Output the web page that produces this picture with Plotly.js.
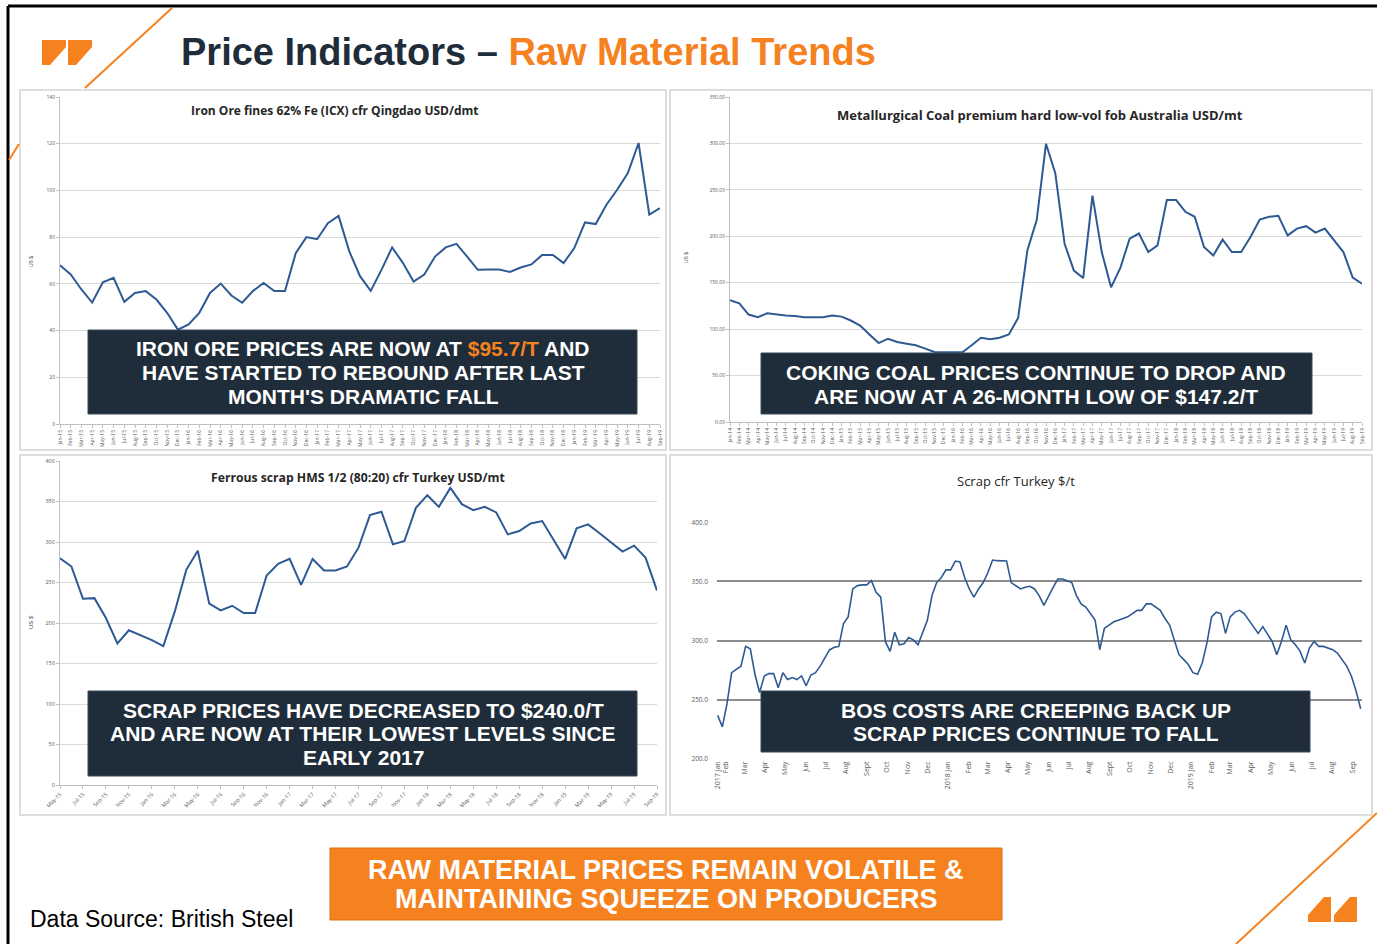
<!DOCTYPE html>
<html><head><meta charset="utf-8">
<script src="https://cdn.plot.ly/plotly-3.0.1.min.js"></script>
<style>html,body{margin:0;padding:0;background:#fff;overflow:hidden}</style>
</head><body><div id="chart" style="width:1377px;height:944px"></div>
<script>
// ---------- DATA ----------
const ironMonths = [
 'Jan-15','Feb-15','Mar-15','Apr-15','May-15','Jun-15','Jul-15','Aug-15','Sep-15','Oct-15','Nov-15','Dec-15',
 'Jan-16','Feb-16','Mar-16','Apr-16','May-16','Jun-16','Jul-16','Aug-16','Sep-16','Oct-16','Nov-16','Dec-16',
 'Jan-17','Feb-17','Mar-17','Apr-17','May-17','Jun-17','Jul-17','Aug-17','Sep-17','Oct-17','Nov-17','Dec-17',
 'Jan-18','Feb-18','Mar-18','Apr-18','May-18','Jun-18','Jul-18','Aug-18','Sep-18','Oct-18','Nov-18','Dec-18',
 'Jan-19','Feb-19','Mar-19','Apr-19','May-19','Jun-19','Jul-19','Aug-19','Sep-19'];
const ironOre = [68, 64, 57.6, 52, 60.7, 62.6, 52.3, 56.1, 56.9, 53.3, 47.6, 40.4,
 42.6, 47.6, 56.1, 60.1, 55, 51.9, 56.9, 60.4, 56.9, 56.9, 73.1, 80,
 79.1, 86, 89.1, 73.9, 63.3, 57, 66, 75.6, 69, 61, 64, 71.7,
 75.6, 77.1, 71.7, 66, 66.1, 66.1, 65.1, 67, 68.3, 72.4, 72.4, 68.9,
 75.3, 86.3, 85.6, 93.9, 100.3, 107.4, 120.3, 89.6, 92.4];

const coalMonths = [
 'Jan-14','Feb-14','Mar-14','Apr-14','May-14','Jun-14','Jul-14','Aug-14','Sep-14','Oct-14','Nov-14','Dec-14',
 'Jan-15','Feb-15','Mar-15','Apr-15','May-15','Jun-15','Jul-15','Aug-15','Sep-15','Oct-15','Nov-15','Dec-15',
 'Jan-16','Feb-16','Mar-16','Apr-16','May-16','Jun-16','Jul-16','Aug-16','Sep-16','Oct-16','Nov-16','Dec-16',
 'Jan-17','Feb-17','Mar-17','Apr-17','May-17','Jun-17','Jul-17','Aug-17','Sep-17','Oct-17','Nov-17','Dec-17',
 'Jan-18','Feb-18','Mar-18','Apr-18','May-18','Jun-18','Jul-18','Aug-18','Sep-18','Oct-18','Nov-18','Dec-18',
 'Jan-19','Feb-19','Mar-19','Apr-19','May-19','Jun-19','Jul-19','Aug-19','Sep-19'];
const coal = [131.3, 127.8, 115.7, 112.8, 117, 115.7, 114.6, 114.2, 112.8, 112.8, 112.8, 114.6,
 113.5, 109.3, 103.9, 94.3, 85, 89.7, 86.1, 84.3, 82.6, 79, 75.4, 75.1,
 75.1, 75.1, 82.6, 90.7, 89, 90.7, 94.3, 112.1, 185, 217.4, 299.6, 268,
 192, 163, 155, 243.8, 183, 145, 166, 197.5, 203, 183, 190.2, 239,
 239, 226.4, 221, 188.4, 179.3, 196.4, 183, 183, 199.3, 218, 221, 222,
 201, 208.3, 210.9, 204, 208.3, 195.7, 183, 155.5, 149];

const scrapMonths = [
 'May-15','Jun-15','Jul-15','Aug-15','Sep-15','Oct-15','Nov-15','Dec-15',
 'Jan-16','Feb-16','Mar-16','Apr-16','May-16','Jun-16','Jul-16','Aug-16','Sep-16','Oct-16','Nov-16','Dec-16',
 'Jan-17','Feb-17','Mar-17','Apr-17','May-17','Jun-17','Jul-17','Aug-17','Sep-17','Oct-17','Nov-17','Dec-17',
 'Jan-18','Feb-18','Mar-18','Apr-18','May-18','Jun-18','Jul-18','Aug-18','Sep-18','Oct-18','Nov-18','Dec-18',
 'Jan-19','Feb-19','Mar-19','Apr-19','May-19','Jun-19','Jul-19','Aug-19','Sep-19'];
const scrapHMS = [279.9, 269.7, 229.9, 230.7, 206.1, 174.7, 191, 185,
 178.8, 171.4, 214.3, 265.6, 289.3, 223.8, 215.6, 221.3, 212.3, 212.3, 258.6, 273,
 279.1, 247.1, 279.1, 264.8, 264.8, 269.7, 293, 333.2, 337.3, 297.1, 301.2, 342.2,
 357.8, 343.4, 366.8, 346.7, 339.3, 343.4, 336.5, 309.4, 313.5, 322.9, 325.8, 302.5,
 279.1, 316.8, 321.7, 310.7, 299.6, 288.1, 295.5, 280.7, 240];

const turkeyStart = '2017-01-20';   // weekly readings from this date
const turkeyScrap = [
 236.7, 227, 246.4, 272.8, 275.6, 278.3, 295, 293, 271.4, 256,
 270, 272, 272, 260, 272.8, 267, 268.6, 267, 270, 261.7,
 270.8, 272.8, 278.3, 285.3, 292, 294.2, 295, 314.4, 320, 343.6,
 346.4, 347, 347, 350.6, 340.8, 336.7, 299, 290.8, 307, 296.4,
 297.2, 302.5, 300.5, 296.4, 306, 317, 338, 349, 353.3, 359.7,
 359.7, 367.2, 366.4, 353.3, 343.6, 336.7, 343.6, 349, 357.5, 368,
 367.5, 367.5, 367.2, 349, 346.4, 343.6, 345, 345.8, 343.6, 338,
 329.7, 338, 345, 352, 352, 350.6, 349, 338, 331, 328.3,
 322.8, 317.2, 292.2, 310.3, 313, 315.8, 317.2, 318.6, 320, 322.8,
 325.5, 325.5, 331, 331, 328.3, 325.5, 318.6, 313, 300.5, 288,
 284, 279.7, 272.8, 271.4, 281, 297.8, 320, 324, 322.8, 306,
 320, 324, 325.5, 322.8, 317.2, 311.7, 306, 311.7, 306, 299.2,
 288, 299.2, 313, 300.5, 296.4, 290.8, 281, 293.6, 299.2, 295,
 295, 293.6, 292.2, 289.4, 284, 278.3, 270, 257.5, 242.2];
const turkeyTickVals = ['2017-01-20','2017-02-01','2017-03-01','2017-04-01','2017-05-01','2017-06-01','2017-07-01','2017-08-01','2017-09-01','2017-10-01','2017-11-01','2017-12-01',
 '2018-01-01','2018-02-01','2018-03-01','2018-04-01','2018-05-01','2018-06-01','2018-07-01','2018-08-01','2018-09-01','2018-10-01','2018-11-01','2018-12-01',
 '2019-01-01','2019-02-01','2019-03-01','2019-04-01','2019-05-01','2019-06-01','2019-07-01','2019-08-01','2019-09-01'];
const turkeyTickText = ['2017 Jan','Feb','Mar','Apr','May','Jun','Jul','Aug','Sept','Oct','Nov','Dec',
 '2018 Jan','Feb','Mar','Apr','May','Jun','Jul','Aug','Sept','Oct','Nov','Dec',
 '2019 Jan','Feb','Mar','Apr','May','Jun','Jul','Aug','Sep'];

// weekly date stamps for the Turkey readings
const turkeyDates = turkeyScrap.map((_, i) => {
  const d = new Date(turkeyStart + 'T00:00:00Z'); d.setUTCDate(d.getUTCDate() + 7 * i);
  return d.toISOString().slice(0, 10);
});

// ---------- LAYOUT HELPERS ----------
const W = 1377, H = 944;
const fx = x => x / W, fy = y => 1 - y / H;
const shapes = [], annotations = [];
const FONT = 'Liberation Sans, Arial, sans-serif';
const ORANGE = '#f5821f', NAVY = '#1f2d3a', BLUE = '#2e5a94';
function addRect(x0, y0, x1, y1, fill, lineColor, lw, layer) {
  shapes.push({type:'rect', xref:'paper', yref:'paper', x0:fx(x0), x1:fx(x1), y0:fy(y1), y1:fy(y0),
    fillcolor:fill, line:{color:lineColor || 'rgba(0,0,0,0)', width:lw || 0}, layer:layer || 'above'});
}
function addLine(x0, y0, x1, y1, color, w) {
  shapes.push({type:'line', xref:'paper', yref:'paper', x0:fx(x0), x1:fx(x1), y0:fy(y0), y1:fy(y1),
    line:{color:color, width:w}, layer:'above'});
}
function addPoly(pts, fill) {
  shapes.push({type:'path', xref:'paper', yref:'paper',
    path:'M' + pts.map(p => fx(p[0]) + ',' + fy(p[1])).join(' L') + ' Z',
    fillcolor:fill, line:{width:0}, layer:'above'});
}
function addText(x, y, text, size, color, opts) {
  annotations.push(Object.assign({xref:'paper', yref:'paper', x:fx(x), y:fy(y), text:text, showarrow:false,
    font:{family:FONT, size:size, color:color}, xanchor:'center', yanchor:'middle'}, opts || {}));
}
function addLines(x, y0, step, lines, size, color) {
  lines.forEach((t, i) => addText(x, y0 + i * step, '<b>' + t + '</b>', size, color));
}

// panels
addRect(20, 90, 666, 450, '#ffffff', '#d4d4d4', 1.5, 'below');
addRect(670, 90, 1372, 450, '#ffffff', '#d4d4d4', 1.5, 'below');
addRect(20, 455, 666, 815, '#ffffff', '#d4d4d4', 1.5, 'below');
addRect(670, 455, 1372, 815, '#ffffff', '#d4d4d4', 1.5, 'below');

// frame & decoration
addLine(8, 6, 8, 944, '#000000', 3);
addLine(8, 6, 1377, 6, '#000000', 3);
addLine(172, 8, 85, 88, ORANGE, 2);
addLine(19, 144, 9, 160, ORANGE, 2);
addLine(1377, 813, 1236, 944, ORANGE, 2);
addPoly([[42,40],[66,40],[66,47],[50,65],[42,65]], ORANGE);
addPoly([[68,40],[92,40],[92,47],[76,65],[68,65]], ORANGE);
addPoly([[1331,922],[1308,922],[1308,915],[1324,897],[1331,897]], ORANGE);
addPoly([[1357,922],[1334,922],[1334,915],[1350,897],[1357,897]], ORANGE);

// title
addText(179, 52, '<b>Price Indicators – <span style="color:' + ORANGE + '">Raw Material Trends</span></b>', 38, '#1f2d3a', {xanchor:'left'});

// chart titles
const TF = 'Open Sans, Liberation Sans, sans-serif';
addText(335, 111, '<b>Iron Ore fines 62% Fe (ICX) cfr Qingdao USD/dmt</b>', 12, '#262626', {font:{family:TF, size:12, color:'#262626'}});
addText(1040, 115, '<b>Metallurgical Coal premium hard low-vol fob Australia USD/mt</b>', 13, '#262626', {font:{family:TF, size:13, color:'#262626'}});
addText(358, 477, '<b>Ferrous scrap HMS 1/2 (80:20) cfr Turkey USD/mt</b>', 12.2, '#262626', {font:{family:TF, size:12.2, color:'#262626'}});
addText(1016, 481, 'Scrap cfr Turkey $/t', 13, '#262626', {font:{family:TF, size:13, color:'#262626'}});

// axis titles
addText(31, 262, 'US $', 5, '#404040', {textangle:-90});
addText(686, 258, 'US $', 5, '#404040', {textangle:-90});
addText(31, 622, 'US $', 6, '#404040', {textangle:-90});

// callout boxes
const BOXF = 21;
addRect(88, 330, 637, 414, NAVY, '#3a4a58', 1);
addLines(363, 349, 23.5, ['IRON ORE PRICES ARE NOW AT <span style="color:' + ORANGE + '">$95.7/T</span> AND',
  'HAVE STARTED TO REBOUND AFTER LAST', 'MONTH\'S DRAMATIC FALL'], BOXF, '#ffffff');
addRect(761, 353, 1312, 414, NAVY, '#3a4a58', 1);
addLines(1036, 372, 24, ['COKING COAL PRICES CONTINUE TO DROP AND',
  'ARE NOW AT A 26-MONTH LOW OF $147.2/T'], BOXF, '#ffffff');
addRect(88, 691, 637, 776, NAVY, '#3a4a58', 1);
addLines(363, 710, 23.5, ['SCRAP PRICES HAVE DECREASED TO $240.0/T',
  'AND ARE NOW AT THEIR LOWEST LEVELS SINCE', 'EARLY 2017'], BOXF, '#ffffff');
addRect(761, 691, 1310, 752, NAVY, '#3a4a58', 1);
addLines(1036, 710, 23.5, ['BOS COSTS ARE CREEPING BACK UP',
  'SCRAP PRICES CONTINUE TO FALL'], BOXF, '#ffffff');

// bottom banner
addRect(330, 848, 1002, 920, ORANGE, '#d9700f', 1);
addLines(666, 870, 29, ['RAW MATERIAL PRICES REMAIN VOLATILE &amp;', 'MAINTAINING SQUEEZE ON PRODUCERS'], 27, '#ffffff');
addText(28, 919, 'Data Source: British Steel', 23, '#000000', {xanchor:'left'});

// ---------- TRACES ----------
const traces = [
  {x: ironMonths, y: ironOre, xaxis:'x', yaxis:'y', type:'scatter', mode:'lines', line:{color:BLUE, width:2}},
  {x: coalMonths, y: coal, xaxis:'x2', yaxis:'y2', type:'scatter', mode:'lines', line:{color:BLUE, width:2}},
  {x: scrapMonths, y: scrapHMS, xaxis:'x3', yaxis:'y3', type:'scatter', mode:'lines', line:{color:BLUE, width:2}},
  {x: turkeyDates, y: turkeyScrap, xaxis:'x4', yaxis:'y4', type:'scatter', mode:'lines', line:{color:BLUE, width:1.6}}
];

const tickF = s => ({family:TF, size:s, color:'#595959'});
function catX(dom, anchor, cats, tv, angle, fs) {
  return {domain:dom, anchor:anchor, type:'category', tickmode:'array', tickvals:tv, ticktext:tv,
    tickangle:angle, tickfont:tickF(fs), showgrid:false, showline:true, linecolor:'#bfbfbf', linewidth:1,
    ticks:'outside', ticklen:3, tickcolor:'#bfbfbf', zeroline:false, automargin:false, fixedrange:true};
}
function valY(dom, anchor, range, dtick, fmt, fs) {
  return {domain:dom, anchor:anchor, range:range, dtick:dtick, tickformat:fmt, tickfont:tickF(fs),
    gridcolor:'#d9d9d9', gridwidth:1, showline:true, linecolor:'#bfbfbf', linewidth:1,
    ticks:'outside', ticklen:3, tickcolor:'#bfbfbf', zeroline:false, automargin:false, fixedrange:true};
}

const layout = {
  width: W, height: H, margin:{l:0, r:0, t:0, b:0, pad:0},
  paper_bgcolor:'#ffffff', plot_bgcolor:'rgba(0,0,0,0)', showlegend:false, hovermode:false,
  xaxis: catX([fx(60), fx(660)], 'y', ironMonths, ironMonths, -90, 5),
  yaxis: valY([fy(424), fy(97)], 'x', [0, 140], 20, 'd', 5),
  xaxis2: catX([fx(730), fx(1362)], 'y2', coalMonths, coalMonths, -90, 5),
  yaxis2: valY([fy(422), fy(97)], 'x2', [0, 350], 50, '.2f', 5),
  xaxis3: catX([fx(60), fx(657)], 'y3', scrapMonths, scrapMonths.filter((_, i) => i % 2 === 0), -45, 5.5),
  yaxis3: valY([fy(785), fy(461)], 'x3', [0, 400], 50, 'd', 5.5),
  xaxis4: {domain:[fx(717), fx(1362)], anchor:'y4', type:'date', range:['2017-01-19', '2019-09-15'],
    tickmode:'array', tickvals:turkeyTickVals, ticktext:turkeyTickText, tickangle:-90, tickfont:tickF(7),
    showgrid:false, showline:false, ticks:'', zeroline:false, automargin:false, fixedrange:true},
  yaxis4: {domain:[fy(759), fy(522)], anchor:'x4', range:[199.8, 400.2], dtick:50, tickformat:'.1f',
    tickfont:tickF(6.5), gridcolor:'#8c8c8c', gridwidth:2, showline:false, ticks:'', zeroline:false,
    automargin:false, fixedrange:true, tick0:200, ticklabelstandoff:8},
  shapes: shapes, annotations: annotations
};

Plotly.newPlot('chart', traces, layout, {staticPlot:true, displayModeBar:false});
</script></body></html>
